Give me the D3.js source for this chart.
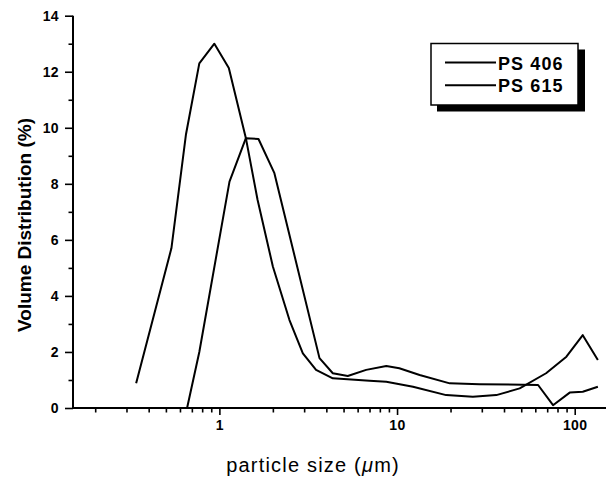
<!DOCTYPE html>
<html>
<head>
<meta charset="utf-8">
<script src="https://cdn.jsdelivr.net/npm/d3@7"></script>
<style>
body { margin: 0; background: #fff; }
svg { display: block; font-family: "Liberation Sans", Arial, sans-serif; }
</style>
</head>
<body>
<div class="main"></div>
<script>
// particle size (um) and volume distribution (%) for each sample
var sizesA = [0.34, 0.537, 0.648, 0.771, 0.937, 1.13, 1.41, 1.64, 2.0, 2.48, 2.95, 3.5, 4.35, 7.0, 8.7, 12.3, 18.9, 26.7, 36.2, 49, 69, 89.8, 111, 135];
var valuesA = [0.88, 5.7, 9.75, 12.3, 13.0, 12.13, 9.63, 7.43, 5.05, 3.14, 1.95, 1.36, 1.06, 0.975, 0.94, 0.76, 0.46, 0.40, 0.46, 0.70, 1.24, 1.83, 2.6, 1.71];
var sizesB = [0.658, 0.771, 1.14, 1.41, 1.66, 2.04, 3.66, 4.35, 5.28, 6.7, 8.7, 10.3, 13.4, 19.8, 29.1, 62.2, 75.5, 93.7, 111, 135];
var valuesB = [0, 2.0, 8.08, 9.63, 9.6, 8.38, 1.78, 1.24, 1.14, 1.36, 1.5, 1.42, 1.18, 0.88, 0.85, 0.82, 0.1, 0.55, 0.58, 0.76];

var seriesNames = ['PS 406', 'PS 615'];
var xMajorTicks = [1, 10, 100];
var xMinorTicks = [0.2, 0.3, 0.4, 0.5, 0.6, 0.7, 0.8, 0.9, 2, 3, 4, 5, 6, 7, 8, 9, 20, 30, 40, 50, 60, 70, 80, 90];
var yMajorTicks = [0, 2, 4, 6, 8, 10, 12, 14];
var yMinorTicks = [1, 3, 5, 7, 9, 11, 13];

var options = {
    'width': 607,
    'height': 478,
};

var svg = d3.select('.main')
    .append('svg')
    .attr('width', options.width)
    .attr('height', options.height);

var x = d3.scaleLog().domain([0.15, 150]).range([73, 606]);
var y = d3.scaleLinear().domain([0, 14]).range([408, 15.7]);

// axes: long ticks with labels, short ticks without
var gx = svg.append('g').attr('transform', 'translate(0,408)');
gx.call(d3.axisBottom(x).tickValues(xMajorTicks).tickSize(7).tickPadding(5).tickFormat(d3.format('d')));
gx.append('g').call(d3.axisBottom(x).tickValues(xMinorTicks).tickSize(4.5).tickFormat(''));

var gy = svg.append('g').attr('transform', 'translate(73,0)');
gy.call(d3.axisLeft(y).tickValues(yMajorTicks).tickSize(8).tickPadding(6));
gy.append('g').call(d3.axisLeft(y).tickValues(yMinorTicks).tickSize(4.5).tickFormat(''));

svg.selectAll('.domain').attr('stroke', '#000').attr('stroke-width', 2);
svg.selectAll('.tick line').attr('stroke', '#000').attr('stroke-width', 1.6);
svg.selectAll('.domain').filter(function (d, i) { return i === 1 || i === 3; }).remove();
svg.selectAll('.tick text')
    .style('font-size', '14px')
    .style('font-weight', 'bold')
    .style('letter-spacing', '0.4px')
    .style('fill', '#000');
gy.select('.domain').attr('d', 'M0,' + y(14) + 'V' + y(0));
gx.select('.domain').attr('d', 'M' + x(0.15) + ',0H' + x(150));

// curves
var line = d3.line()
    .x(function (d) { return x(d[0]); })
    .y(function (d) { return y(d[1]); });

var curves = [d3.zip(sizesA, valuesA), d3.zip(sizesB, valuesB)];

svg.selectAll('.curve')
    .data(curves)
    .enter()
    .append('path')
    .attr('class', 'curve')
    .attr('d', line)
    .style('fill', 'none')
    .style('stroke', '#000')
    .style('stroke-width', 2)
    .style('stroke-linejoin', 'round');

// titles
svg.append('text')
    .attr('transform', 'translate(31,225) rotate(-90)')
    .attr('text-anchor', 'middle')
    .style('font-size', '19px')
    .style('font-weight', 'bold')
    .text('Volume Distribution (%)');

var xt = svg.append('text')
    .attr('x', 313)
    .attr('y', 472)
    .attr('text-anchor', 'middle')
    .style('font-size', '20px')
    .style('letter-spacing', '1.2px');
xt.append('tspan').text('particle size (');
xt.append('tspan').style('font-style', 'italic').text('\u03bc');
xt.append('tspan').text('m)');

// legend
var legend = svg.append('g');
legend.append('rect')
    .attr('x', 437).attr('y', 49.5)
    .attr('width', 148).attr('height', 62)
    .style('fill', '#000');
legend.append('rect')
    .attr('x', 431).attr('y', 43.5)
    .attr('width', 147).attr('height', 61.5)
    .style('fill', '#fff')
    .style('stroke', '#000')
    .style('stroke-width', 1.5);

var items = legend.selectAll('.item')
    .data(seriesNames)
    .enter()
    .append('g')
    .attr('class', 'item')
    .attr('transform', function (d, i) {
        return 'translate(0,' + (62.5 + i * 22.7) + ')';
    });

items.append('line')
    .attr('x1', 445).attr('x2', 496)
    .attr('y1', 0).attr('y2', 0)
    .style('stroke', '#000')
    .style('stroke-width', 2);

items.append('text')
    .attr('x', 498)
    .attr('y', 7)
    .style('font-size', '18px')
    .style('font-weight', 'bold')
    .style('letter-spacing', '1.1px')
    .text(function (d) { return d; });
</script>
</body>
</html>
